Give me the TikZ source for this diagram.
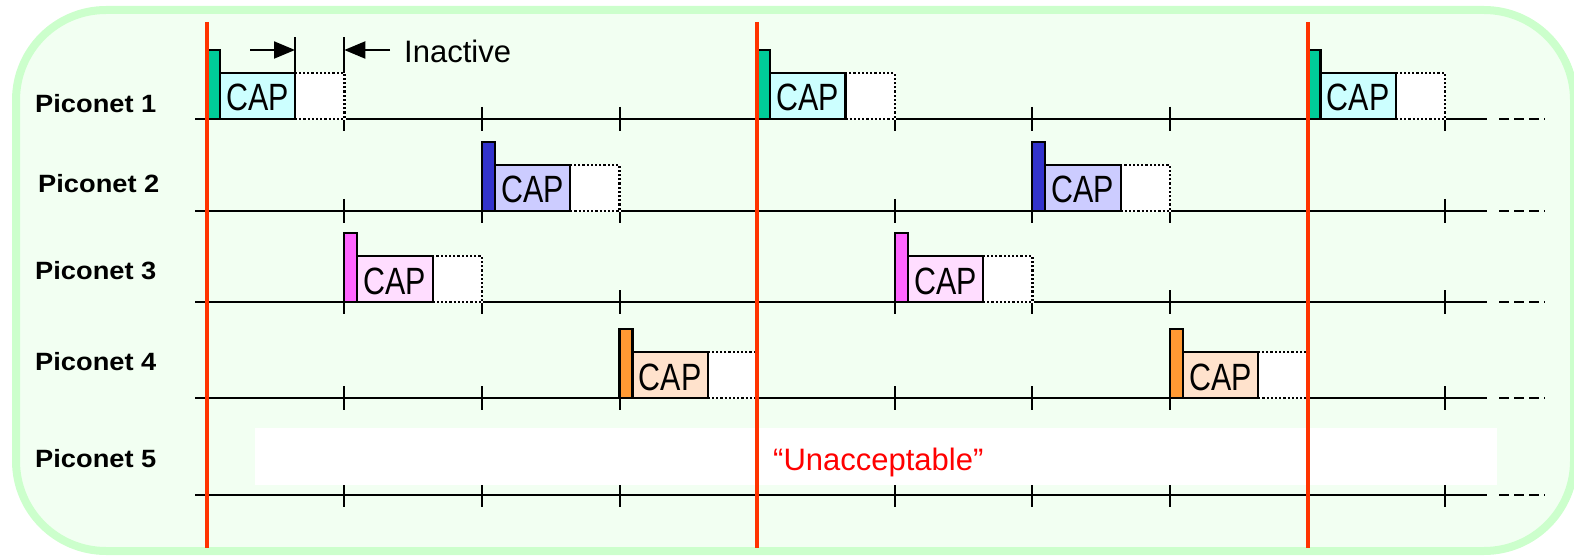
\documentclass[tikz,border=0pt]{standalone}
\usepackage{fontspec}
\setmainfont{Liberation Sans}
\newfontfamily\capfont[FakeStretch=0.8]{Liberation Sans}
\newfontfamily\labfont[FakeStretch=1.09]{Liberation Sans}
\usetikzlibrary{arrows.meta}
\definecolor{bgfill}{HTML}{F2FFF2}
\definecolor{bgline}{HTML}{CCFFCC}
\definecolor{beaconA}{HTML}{00CC99}
\definecolor{capA}{HTML}{CCFFFF}
\definecolor{beaconB}{HTML}{3333CC}
\definecolor{capB}{HTML}{CCCCFF}
\definecolor{beaconC}{HTML}{FF66FF}
\definecolor{capC}{HTML}{FFDDFF}
\definecolor{beaconD}{HTML}{FF9933}
\definecolor{capD}{HTML}{FFE2CC}
\definecolor{sfline}{HTML}{FF3300}
\definecolor{badred}{HTML}{FF0000}
\newcommand\mkslot[5]{%
  \node[beacon,fill=#3] (#5b) at (#1,#2) {};
  \node[inact] (#5i) at (#1+88.3,#2) {};
  \node[capbox,fill=#4] (#5c) at (#1+13,#2) {};
  \node[captext] (#5t) at ([yshift=8pt]#5c.south) {CAP};
}
\begin{document}
\begin{tikzpicture}[x=1pt,y=-1pt,
  beacon/.style={draw=black, line width=2.2pt, inner sep=0pt, outer sep=0pt, minimum width=13pt, minimum height=69pt, anchor=south west},
  capbox/.style={draw=black, line width=2.2pt, inner sep=0pt, outer sep=0pt, minimum width=75.3pt, minimum height=46pt, anchor=south west},
  inact/.style={fill=white, draw=black, line width=2.4pt, dash pattern=on 2.2pt off 2pt, preaction={draw=white, solid}, inner sep=0pt, outer sep=0pt, minimum width=49.3pt, minimum height=46pt, anchor=south west},
  captext/.style={font=\capfont\fontsize{38}{40}\selectfont, anchor=base, inner sep=0pt},
  lab/.style={font=\labfont\bfseries\fontsize{25}{30}\selectfont, anchor=base west, inner sep=0pt},
  axisline/.style={line width=2pt, black},
  tailline/.style={line width=2pt, black, dash pattern=on 10pt off 5pt},
  tick/.style={line width=2pt, black},
  sframe/.style={line width=4pt, sfline},
  marker/.style={line width=2pt, black},
  arr/.style={line width=2pt, black, -{Triangle[length=21pt,width=17pt]}},
]
\useasboundingbox (0,0) rectangle (1574,556);
% background panel
\draw[line width=8pt, bgline, fill=bgfill, rounded corners=90pt] (16,10) rectangle (1574,551);

% labels
\node[lab] (l1) at (35,113) {Piconet 1};
\node[lab] (l2) at (38,193) {Piconet 2};
\node[lab] (l3) at (35,279) {Piconet 3};
\node[lab] (l4) at (35,370) {Piconet 4};
\node[lab] (l5) at (35,467) {Piconet 5};

% axes and ticks
\foreach \ay [count=\i] in {119,211,302,398,495}{
  \coordinate (a\i s) at (195,\ay);
  \coordinate (a\i e) at (1487,\ay);
  \coordinate (d\i s) at (1499,\ay);
  \coordinate (d\i e) at (1545,\ay);
  \draw[axisline] (a\i s) -- (a\i e);
  \draw[tailline] (d\i s) -- (d\i e);
  \foreach \k in {1,...,9}{
    \draw[tick] (206.7+137.6*\k,\ay-12) -- (206.7+137.6*\k,\ay+12);
  }
}

% piconet 5 band
\node[fill=white, inner sep=0pt, outer sep=0pt, minimum width=1242pt, minimum height=57pt, anchor=north west] (band) at (255,428) {};
\node[font=\fontsize{31}{34}\selectfont, text=badred, anchor=base west, inner sep=0pt] (unacc) at (773,470) {“Unacceptable”};

% slots
\mkslot{206.7}{119}{beaconA}{capA}{pa}
\mkslot{757.1}{119}{beaconA}{capA}{pb}
\mkslot{1307.5}{119}{beaconA}{capA}{pc}
\mkslot{481.9}{211}{beaconB}{capB}{qa}
\mkslot{1032.3}{211}{beaconB}{capB}{qb}
\mkslot{344.3}{302}{beaconC}{capC}{ra}
\mkslot{894.7}{302}{beaconC}{capC}{rb}
\mkslot{619.5}{398}{beaconD}{capD}{sa}
\mkslot{1169.9}{398}{beaconD}{capD}{sb}

% inactive marker
\coordinate (m1) at ([yshift=36pt]pai.north west);
\coordinate (m2) at ([yshift=36pt]pai.north east);
\draw[marker] (pai.north west) -- (m1);
\draw[marker] (pai.north east) -- (m2);
\coordinate (ar1) at (250,50);
\coordinate (ar2) at (390,50);
\draw[arr] (ar1) -- (ar1 -| m1);
\draw[arr] (ar2) -- (ar2 -| m2);
\node[font=\fontsize{31}{34}\selectfont, anchor=base west, inner sep=0pt] (inact) at (404,63) {Inactive};

% superframe boundaries
\foreach \x [count=\j] in {206.7,757.1,1307.5}{
  \coordinate (f\j t) at (\x,22);
  \coordinate (f\j b) at (\x,548);
  \draw[sframe] (f\j t) -- (f\j b);
}
\end{tikzpicture}
\end{document}
